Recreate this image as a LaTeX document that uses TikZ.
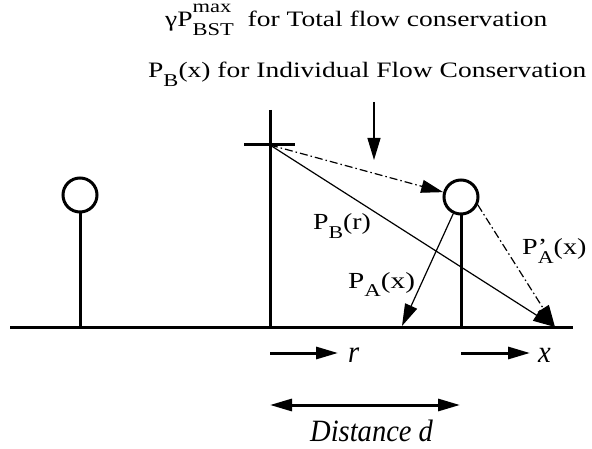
\documentclass[tikz,border=0pt]{standalone}
\usepackage{graphicx}
\usepackage{fontspec}
\setmainfont{Liberation Serif}
\usetikzlibrary{arrows.meta}

% lowered and raised indices, as large as the reference draws them
\newcommand{\lo}[1]{\raisebox{-9pt}{\fontsize{18}{18}\selectfont #1}}
\newcommand{\hi}[1]{\raisebox{14pt}{\fontsize{18}{18}\selectfont #1}}
% the reference letters are set wider (or narrower) than the font
\newcommand{\widen}[2]{\scalebox{#1}[1]{#2}}

\begin{document}
\begin{tikzpicture}[x=1pt, y=-1pt, font=\fontsize{22}{26}\selectfont,
    station/.style={draw, circle, line width=3pt, minimum size=34pt, inner sep=0pt},
    pole/.style={line width=3pt},
    label/.style={anchor=base west, inner sep=0pt},
    midlabel/.style={label, font=\fontsize{23}{27}\selectfont},
    lowlabel/.style={label, font=\fontsize{31}{36}\selectfont\itshape},
    thinarrow/.style={-{Triangle[length=22pt, width=13pt]}, line width=1.2pt},
    dashdot/.style={dash pattern=on 8pt off 3pt on 1.5pt off 3pt},
    thickarrow/.style={-{Triangle[length=22pt, width=12pt]}, line width=3pt}]
    \useasboundingbox (0,0) rectangle (592,449);

    % ground and stations
    \coordinate (g0) at (10,327);
    \coordinate (g1) at (573,327);
    \draw[pole] (g0) -- (g1);

    \node[station] (mobL) at (80,195) {};
    \node[station] (mobR) at (461,197) {};
    \draw[pole] (mobL.south) -- (mobL.south |- g0);
    \draw[pole] (mobR.south) -- (mobR.south |- g0);

    \coordinate (bs) at (270,145);
    \coordinate (bsTop) at (270,110);
    \draw[pole] (bsTop) -- (bsTop |- g0);
    \draw[pole] (244,145) -- (295,145);

    % texts on top
    \node[label] (total) at (165,27) {\widen{1.25}{γP\makebox[0pt][l]{\hi{max}}\lo{BST}\ \ for Total flow conservation}};
    \node[label] (indiv) at (148,78) {\widen{1.25}{P\lo{B}(x) for Individual Flow Conservation}};

    \coordinate (down0) at (374,102);
    \coordinate (down1) at (374,160);
    \draw[thinarrow] (down0) -- (down1);

    % flows
    \coordinate (tip) at (555,327);
    \coordinate (paTip) at (402,326);
    \draw[thinarrow, dashdot] (bs) -- (mobR);
    \draw[thinarrow] (bs) -- (tip);
    \draw[thinarrow, dashdot] (mobR.-25) -- (tip);
    \draw[thinarrow] (mobR.-115) -- (paTip);

    \node[midlabel] (pbr) at (313,230) {\widen{1.21}{P\lo{B}(r)}};
    \node[midlabel] (pa2) at (522,255) {\widen{1.22}{P\makebox[0pt][l]{’}\lo{A}(x)}};
    \node[midlabel] (pa) at (348,288) {\widen{1.27}{P\lo{A}(x)}};

    % distances
    \coordinate (r0) at (270,353);
    \coordinate (r1) at (338,353);
    \coordinate (x0) at (461,353);
    \coordinate (x1) at (530,353);
    \coordinate (d0) at (270,405);
    \coordinate (d1) at (460,405);
    \draw[thickarrow] (r0) -- (r1);
    \draw[thickarrow] (x0) -- (x1);
    \draw[thickarrow, {Triangle[length=22pt, width=12pt]}-{Triangle[length=22pt, width=12pt]}] (d0) -- (d1);

    \node[lowlabel] (rlab) at (348,362) {\widen{0.92}{r}};
    \node[lowlabel] (xlab) at (538,362) {\widen{0.92}{x}};
    \node[lowlabel] (dlab) at (310,441) {\widen{0.92}{Distance d}};
\end{tikzpicture}
\end{document}
